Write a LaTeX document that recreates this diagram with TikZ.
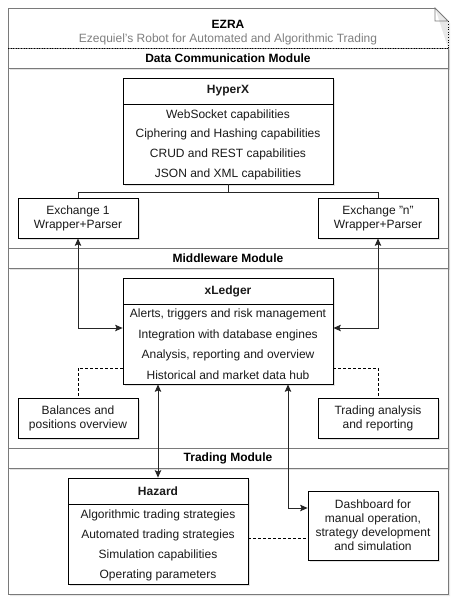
\documentclass[tikz,border=0pt]{standalone}
\usepackage{fontspec}
\setmainfont{Liberation Sans}
\usetikzlibrary{arrows.meta,calc,shadows}
\definecolor{framegray}{HTML}{7A7A7A}
\definecolor{subgray}{HTML}{808080}
\definecolor{txt}{HTML}{1A1A1A}
\begin{document}
\begin{tikzpicture}[x=1pt,y=-1pt,
  font=\fontsize{12pt}{14pt}\selectfont,
  shd/.style={drop shadow={shadow xshift=1.5pt,shadow yshift=-1.5pt,opacity=0.22,fill=gray}},
  box/.style={draw=black, fill=white, line width=0.8pt, align=center, inner sep=0pt, text=txt, shd},
  band/.style={draw=framegray, fill=white, line width=0.8pt, minimum width=440pt, minimum height=20pt, inner sep=0pt, font=\fontsize{12pt}{14pt}\selectfont\bfseries, shd},
  item/.style={inner sep=0pt, text=txt},
  arr/.style={{Stealth[length=7.5pt,width=6.5pt,inset=1.5pt]}-{Stealth[length=7.5pt,width=6.5pt,inset=1.5pt]}, line width=0.8pt, draw=black!85},
  link/.style={line width=0.8pt, draw=black!85},
  dlink/.style={line width=0.7pt, draw=black, dash pattern=on 3pt off 2pt}
]
\fill[white] (0,0) rectangle (468,614);
\useasboundingbox (0,0) rectangle (468,614);

% outer note frame
\fill[gray,opacity=0.18] (10,10) -- (437,10) -- (450,23) -- (450,596) -- (10,596) -- cycle;
\filldraw[framegray, fill=white, line width=0.8pt] (435,8) -- (8,8) -- (8,594) -- (448,594) -- (448,48);
\draw[black, line width=0.6pt, dotted] (448,48) -- (448,21);
\draw[framegray, line width=0.8pt] (448,21) -- (435,8) -- (435,21) -- (448,21);
\node[font=\fontsize{12pt}{14pt}\selectfont\bfseries, text=black] (title) at (228,24) {EZRA};
\node[text=subgray] (subtitle) at (228,39) {Ezequiel’s Robot for Automated and Algorithmic Trading};

% bands
\node[band] (dcm) at (228,58) {Data Communication Module};
\draw[black, line width=0.6pt, dotted] (8,48) -- (448,48);
\node[band] (mwm) at (228,258.5) {Middleware Module};
\node[band] (trm) at (228,458) {Trading Module};

% HyperX
\node[box, minimum width=210pt, minimum height=26pt, font=\fontsize{12pt}{14pt}\selectfont\bfseries] (hyxh) at (228,91) {HyperX};
\node[box, minimum width=210pt, minimum height=80pt] (hyxb) at (228,144) {};
\node[item] (hx1) at (228,115) {WebSocket capabilities};
\node[item] (hx2) at (228,134) {Ciphering and Hashing capabilities};
\node[item] (hx3) at (228,154) {CRUD and REST capabilities};
\node[item] (hx4) at (228,174) {JSON and XML capabilities};

% exchanges
\node[box, minimum width=120pt, minimum height=40pt] (ex1) at (78,218) {Exchange 1\\Wrapper+Parser};
\node[box, minimum width=120pt, minimum height=40pt] (exn) at (378,218) {Exchange "n"\\Wrapper+Parser};

% xLedger
\node[box, minimum width=210pt, minimum height=26pt, font=\fontsize{12pt}{14pt}\selectfont\bfseries] (xlh) at (228,291) {xLedger};
\node[box, minimum width=210pt, minimum height=80pt] (xlb) at (228,344) {};
\node[item] (xl1) at (228,314) {Alerts, triggers and risk management};
\node[item] (xl2) at (228,335) {Integration with database engines};
\node[item] (xl3) at (228,355) {Analysis, reporting and overview};
\node[item] (xl4) at (228,375) {Historical and market data hub};

% side boxes
\node[box, minimum width=120pt, minimum height=40pt] (bal) at (78,418) {Balances and\\positions overview};
\node[box, minimum width=120pt, minimum height=40pt] (tar) at (378,418) {Trading analysis\\and reporting};

% Hazard
\node[box, minimum width=180pt, minimum height=26pt, font=\fontsize{12pt}{14pt}\selectfont\bfseries] (hzh) at (158,491) {Hazard};
\node[box, minimum width=180pt, minimum height=80pt] (hzb) at (158,544) {};
\node[item] (hz1) at (158,515) {Algorithmic trading strategies};
\node[item] (hz2) at (158,535) {Automated trading strategies};
\node[item] (hz3) at (158,555) {Simulation capabilities};
\node[item] (hz4) at (158,575) {Operating parameters};

% Dashboard
\node[box, minimum width=130pt, minimum height=69pt] (dash) at (373,525.5) {Dashboard for\\manual operation,\\strategy development\\and simulation};

% connectors
\draw[link] (hyxb.south) -- ++(0,8) -| (ex1.north);
\draw[link] (hyxb.south) -- ++(0,8) -| (exn.north);
\draw[arr] (ex1.south) |- ($(xlb.west)+(0,-16)$);
\draw[arr] (exn.south) |- ($(xlb.east)+(0,-16)$);
\draw[dlink] ($(xlb.west)+(0,24)$) -| (bal.north);
\draw[dlink] ($(xlb.east)+(0,24)$) -| (tar.north);
\draw[arr] ($(xlb.south)+(-70,0)$) -- (hzh.north);
\draw[arr] ($(xlb.south)+(60,0)$) |- ($(dash.west)+(0,-17.5)$);
\draw[dlink] ($(hzb.east)+(0,-6)$) -- ($(dash.west)+(0,12.5)$);
\end{tikzpicture}
\end{document}
